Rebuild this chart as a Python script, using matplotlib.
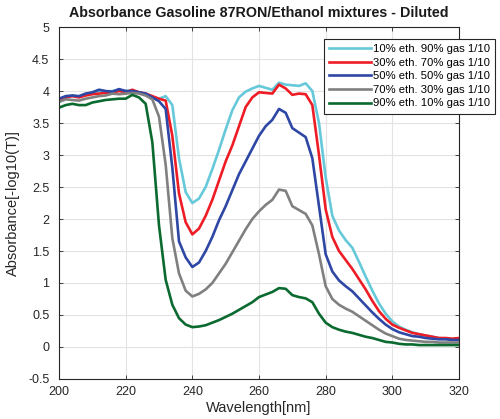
import numpy as np
import matplotlib
matplotlib.use("Agg")
import matplotlib.pyplot as plt
from matplotlib.ticker import FuncFormatter

wavelength = list(range(200, 321, 2))

eth10 = [3.86, 3.90, 3.93, 3.91, 3.95, 3.97, 4.00, 3.99, 4.00, 4.02,
         4.00, 4.00, 3.98, 3.95, 3.90, 3.88, 3.92, 3.78, 2.95, 2.42,
         2.25, 2.32, 2.50, 2.78, 3.08, 3.40, 3.70, 3.90, 3.99, 4.04,
         4.08, 4.05, 4.02, 4.13, 4.10, 4.09, 4.08, 4.12, 4.00, 3.50,
         2.65, 2.05, 1.82, 1.67, 1.55, 1.33, 1.10, 0.88, 0.68, 0.52,
         0.40, 0.32, 0.27, 0.23, 0.20, 0.18, 0.16, 0.14, 0.13, 0.12,
         0.13]
eth30 = [3.86, 3.90, 3.92, 3.90, 3.93, 3.95, 3.96, 3.97, 3.97, 4.00,
         3.98, 4.02, 3.98, 3.96, 3.92, 3.88, 3.85, 3.30, 2.40, 1.95,
         1.76, 1.85, 2.05, 2.30, 2.60, 2.90, 3.15, 3.45, 3.75, 3.90,
         3.98, 3.97, 3.96, 4.10, 4.04, 3.94, 3.96, 3.95, 3.78, 3.00,
         2.15, 1.72, 1.50, 1.36, 1.22, 1.06, 0.90, 0.72, 0.56, 0.44,
         0.35, 0.30, 0.26, 0.22, 0.20, 0.18, 0.16, 0.14, 0.14, 0.13,
         0.14]
eth50 = [3.88, 3.92, 3.93, 3.92, 3.96, 3.98, 4.02, 4.00, 3.99, 4.03,
         4.00, 4.00, 3.98, 3.96, 3.90, 3.84, 3.72, 2.80, 1.65, 1.40,
         1.25, 1.32, 1.50, 1.72, 1.98, 2.20, 2.45, 2.70, 2.90, 3.10,
         3.30, 3.45, 3.55, 3.72, 3.66, 3.42, 3.35, 3.28, 2.95, 2.20,
         1.45, 1.18, 1.04, 0.95, 0.87, 0.76, 0.65, 0.54, 0.44, 0.35,
         0.28, 0.23, 0.20, 0.17, 0.16, 0.14, 0.13, 0.12, 0.12, 0.11,
         0.11]
eth70 = [3.83, 3.87, 3.86, 3.85, 3.88, 3.90, 3.92, 3.93, 3.96, 3.95,
         3.96, 3.97, 3.96, 3.93, 3.87, 3.60, 2.85, 1.70, 1.15, 0.88,
         0.79, 0.83, 0.90, 1.00, 1.15, 1.30, 1.48, 1.66, 1.84, 2.00,
         2.12, 2.22, 2.30, 2.46, 2.44, 2.20, 2.14, 2.08, 1.90, 1.45,
         0.95, 0.75, 0.66, 0.60, 0.55, 0.48, 0.41, 0.34, 0.27, 0.21,
         0.17, 0.13, 0.11, 0.10, 0.09, 0.08, 0.08, 0.07, 0.07, 0.07,
         0.07]
eth90 = [3.74, 3.78, 3.80, 3.78, 3.78, 3.82, 3.84, 3.86, 3.87, 3.88,
         3.88, 3.94, 3.90, 3.80, 3.20, 1.90, 1.05, 0.66, 0.45, 0.35,
         0.31, 0.32, 0.34, 0.38, 0.42, 0.47, 0.52, 0.58, 0.64, 0.70,
         0.78, 0.82, 0.86, 0.92, 0.91, 0.81, 0.78, 0.76, 0.70, 0.52,
         0.38, 0.31, 0.27, 0.24, 0.22, 0.19, 0.16, 0.14, 0.11, 0.08,
         0.07, 0.05, 0.04, 0.04, 0.03, 0.03, 0.03, 0.03, 0.03, 0.03,
         0.03]

labels = ["10% eth. 90% gas 1/10", "30% eth. 70% gas 1/10",
          "50% eth. 50% gas 1/10", "70% eth. 30% gas 1/10",
          "90% eth. 10% gas 1/10"]
colors = ["#66C9DA", "#EE1C25", "#2E47A4", "#808080", "#0B6A2F"]
series = [eth10, eth30, eth50, eth70, eth90]

plt.rcParams['font.family'] = ['Liberation Sans', 'DejaVu Sans']

fig = plt.figure(figsize=(5.0, 4.19), dpi=100)
ax = fig.add_axes([0.118, 0.0955, 0.800, 0.840])

for y, c, lab in zip(series, colors, labels):
    ax.plot(wavelength, y, color=c, lw=1.9, label=lab)

ax.set_xlim(200, 320)
ax.set_ylim(-0.5, 5)
ax.set_xticks(np.arange(200, 321, 20))
ax.set_yticks(np.arange(-0.5, 5.01, 0.5))
ax.yaxis.set_major_formatter(FuncFormatter(lambda v, p: ("%g" % round(v, 2))))
ax.grid(True, color="#E3E3E3", lw=0.8)
ax.set_axisbelow(True)
ax.tick_params(direction='in', length=3, width=0.6, labelsize=9, colors="#262626",
               top=True, right=True)
ax.tick_params(axis='x', pad=5)
ax.tick_params(axis='y', pad=7)
for s in ax.spines.values():
    s.set_color("#262626")
    s.set_linewidth(0.8)

ax.set_title("Absorbance Gasoline 87RON/Ethanol mixtures - Diluted",
             fontsize=10.3, fontweight='bold', color="#1a1a1a", pad=7)
ax.set_xlabel("Wavelength[nm]", fontsize=10.5, color="#262626", labelpad=2)
ax.set_ylabel("Absorbance[-log10(T)]", fontsize=10.5, color="#262626", labelpad=6)

leg = ax.legend(loc='upper left', bbox_to_anchor=(0.6625, 0.966), borderaxespad=0,
                fontsize=8.1, fancybox=False, framealpha=1, edgecolor="#262626",
                handlelength=3.7, handletextpad=0.2, labelspacing=0.32,
                borderpad=0.45)
leg.get_frame().set_linewidth(0.8)

fig.savefig("out.png", dpi=100)
